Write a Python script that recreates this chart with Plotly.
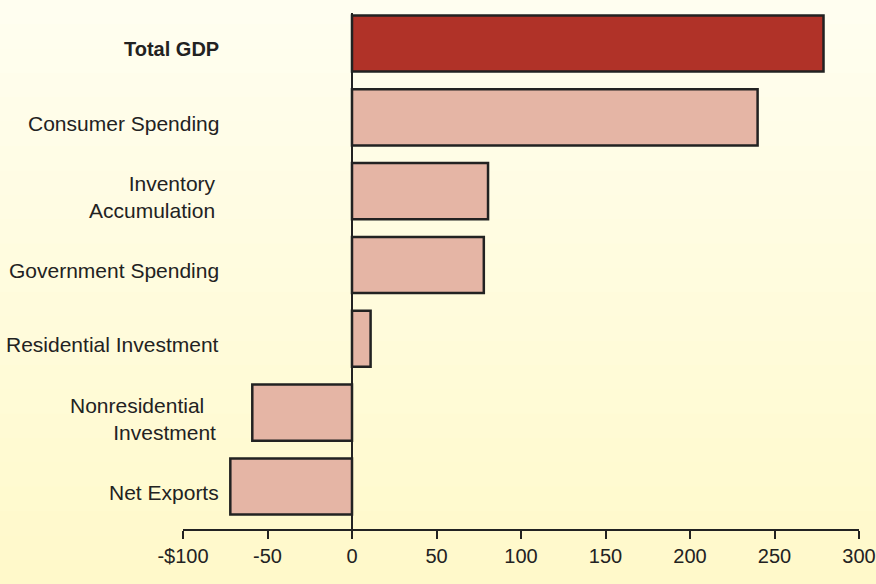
import plotly.graph_objects as go

categories = ["Total GDP", "Consumer Spending", "Inventory<br>Accumulation",
              "Government Spending", "Residential Investment",
              "Nonresidential\u00a0\u00a0<br>Investment", "Net Exports"]
values = [279, 240, 80.5, 78, 11, -59, -72]
tick_vals = [-100, -50, 0, 50, 100, 150, 200, 250, 300]
tick_text = ["-$100", "-50", "0", "50", "100", "150", "200", "250", "300"]

positions = list(range(len(categories)))
colors = ["#B03228"] + ["#E5B5A5"] * (len(categories) - 1)

W, H = 876, 584
ML, MR, MT, MB = 183, 17, 13, 55
PW, PH = W - ML - MR, H - MT - MB

fig = go.Figure()
fig.add_trace(go.Bar(
    x=values, y=positions, orientation="h", width=0.76,
    marker=dict(color=colors, line=dict(color="#222222", width=2.5)),
    hoverinfo="skip", showlegend=False,
))

# background gradient bands
top = (0xFF, 0xFE, 0xF0)
bot = (0xFF, 0xF9, 0xCA)
n = 24
shapes = []
y_top = 1 + MT / PH
y_bot = -MB / PH
for i in range(n):
    t = i / (n - 1)
    c = tuple(round(top[k] + (bot[k] - top[k]) * t) for k in range(3))
    y1 = y_top - (y_top - y_bot) * i / n
    y0 = y_top - (y_top - y_bot) * (i + 1) / n
    shapes.append(dict(type="rect", xref="paper", yref="paper",
                       x0=-ML / PW, x1=1 + MR / PW, y0=y0 - 0.002, y1=y1,
                       fillcolor="rgb(%d,%d,%d)" % c, line=dict(width=0),
                       layer="below"))

font_family = "Arial, Liberation Sans, sans-serif"
annotations = []
for i, cat in enumerate(categories):
    txt = "<b>%s</b>" % cat if i == 0 else cat
    multi = "<br>" in cat
    annotations.append(dict(
        x=(221 - ML) / PW, xref="paper", y=positions[i], yref="y",
        text=txt, showarrow=False, xanchor="right", yanchor="middle",
        align="right", xshift=-3 if multi else 0, yshift=-6,
        font=dict(family=font_family, size=21 if i else 20, color="#222222"),
    ))

fig.update_layout(
    width=W, height=H, autosize=False,
    margin=dict(l=ML, r=MR, t=MT, b=MB, pad=0, autoexpand=False),
    paper_bgcolor="#FFF9CA", plot_bgcolor="rgba(0,0,0,0)",
    shapes=shapes, annotations=annotations,
    font=dict(family=font_family, color="#222222"),
    xaxis=dict(range=[-100, 300], tickvals=tick_vals, ticktext=tick_text,
               automargin=False,
               showgrid=False, zeroline=True, zerolinecolor="#222222",
               zerolinewidth=2, showline=True, linecolor="#222222",
               linewidth=2, ticks="outside", ticklen=8, tickwidth=2,
               tickcolor="#222222", tickfont=dict(size=20, color="#222222"),
               fixedrange=True),
    yaxis=dict(range=[6.576, -0.413], showticklabels=False, showgrid=False,
               automargin=False,
               zeroline=False, showline=False, ticks="", fixedrange=True),
)

fig.write_html("out.html", config={"displayModeBar": False},
               post_script="document.body.style.margin='0';"
                           "document.body.style.overflow='hidden';")
